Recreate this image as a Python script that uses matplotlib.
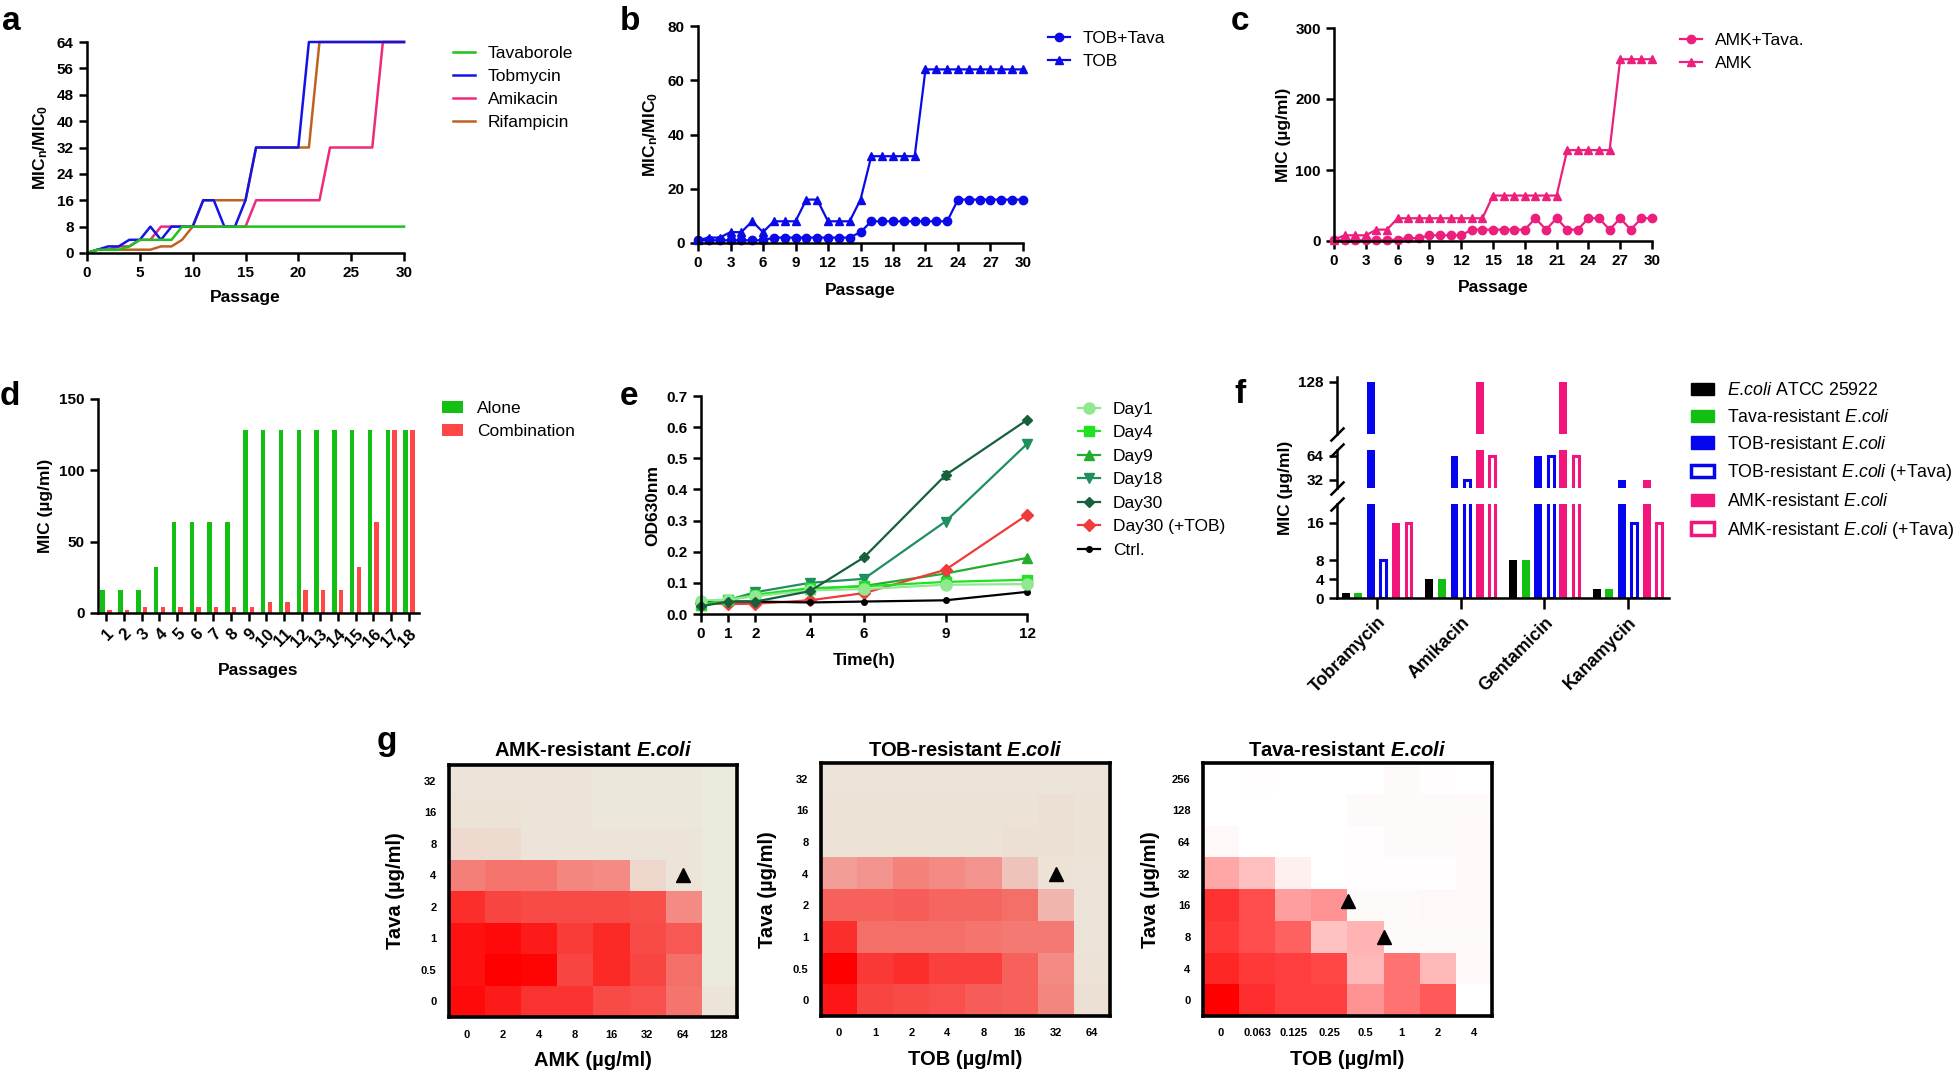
import matplotlib
matplotlib.use("Agg")
import matplotlib.pyplot as plt
import numpy as np
from matplotlib.colors import LinearSegmentedColormap
from matplotlib.patches import Patch
from matplotlib.lines import Line2D

# ---------------- data ----------------
passage = list(range(31))

# a: fold change of MIC
a_tava = [0, 1, 1, 1, 2, 4, 4, 4, 4, 8, 8, 8, 8, 8, 8, 8, 8, 8, 8, 8, 8, 8, 8, 8, 8, 8, 8, 8, 8, 8, 8]
a_tob = [0, 1, 2, 2, 4, 4, 8, 4, 8, 8, 8, 16, 16, 8, 8, 16, 32, 32, 32, 32, 32, 64, 64, 64, 64, 64, 64, 64, 64, 64, 64]
a_amk = [0, 1, 1, 2, 2, 4, 4, 8, 8, 8, 8, 8, 8, 8, 8, 8, 16, 16, 16, 16, 16, 16, 16, 32, 32, 32, 32, 32, 64, 64, 64]
a_rif = [0, 1, 1, 1, 1, 1, 1, 2, 2, 4, 8, 16, 16, 16, 16, 16, 32, 32, 32, 32, 32, 32, 64, 64, 64, 64, 64, 64, 64, 64, 64]

# b
b_tob_tava = [1, 1, 1, 1, 1, 1, 1, 2, 2, 2, 2, 2, 2, 2, 2, 4, 8, 8, 8, 8, 8, 8, 8, 8, 16, 16, 16, 16, 16, 16, 16]
b_tob = [1, 2, 2, 4, 4, 8, 4, 8, 8, 8, 16, 16, 8, 8, 8, 16, 32, 32, 32, 32, 32, 64, 64, 64, 64, 64, 64, 64, 64, 64, 64]

# c
c_amk_tava = [1, 1, 1, 1, 1, 1, 2, 4, 4, 8, 8, 8, 8, 16, 16, 16, 16, 16, 16, 32, 16, 32, 16, 16, 32, 32, 16, 32, 16, 32, 32]
c_amk = [2, 8, 8, 8, 16, 16, 32, 32, 32, 32, 32, 32, 32, 32, 32, 64, 64, 64, 64, 64, 64, 64, 128, 128, 128, 128, 128, 256, 256, 256, 256]

# d
d_passages = [str(i) for i in range(1, 19)]
d_alone = [16, 16, 16, 32, 64, 64, 64, 64, 128, 128, 128, 128, 128, 128, 128, 128, 128, 128]
d_combo = [2, 2, 4, 4, 4, 4, 4, 4, 4, 8, 8, 16, 16, 16, 32, 64, 128, 128]

# e
e_time = [0, 1, 2, 4, 6, 9, 12]
e_day1 = [0.043, 0.046, 0.057, 0.076, 0.080, 0.094, 0.096]
e_day4 = [0.030, 0.046, 0.062, 0.083, 0.089, 0.103, 0.110]
e_day9 = [0.030, 0.045, 0.060, 0.080, 0.090, 0.130, 0.180]
e_day18 = [0.030, 0.045, 0.070, 0.100, 0.113, 0.297, 0.546]
e_day30 = [0.025, 0.040, 0.040, 0.073, 0.182, 0.446, 0.623]
e_day30_err = [0.0, 0.0, 0.0, 0.0, 0.004, 0.012, 0.004]
e_day30_tob = [0.035, 0.032, 0.033, 0.044, 0.067, 0.142, 0.318]
e_ctrl = [0.040, 0.040, 0.040, 0.037, 0.040, 0.044, 0.071]

# f
f_drugs = ["Tobramycin", "Amikacin", "Gentamicin", "Kanamycin"]
f_atcc = [1, 4, 8, 2]
f_tava_res = [1, 4, 8, 2]
f_tob_res = [128, 64, 64, 32]
f_tob_res_tava = [8, 32, 64, 16]
f_amk_res = [16, 128, 128, 32]
f_amk_res_tava = [16, 64, 64, 16]

# g: checkerboards (rows from lowest Tava upwards, relative growth 0..1)
g1_x = ["0", "2", "4", "8", "16", "32", "64", "128"]
g1_y = ["0", "0.5", "1", "2", "4", "8", "16", "32"]
g1 = [[0.95, 0.88, 0.78, 0.78, 0.68, 0.65, 0.50, 0.02],
      [0.92, 1.00, 0.98, 0.70, 0.82, 0.70, 0.52, 0.00],
      [0.92, 0.95, 0.88, 0.74, 0.82, 0.68, 0.62, 0.00],
      [0.80, 0.70, 0.68, 0.68, 0.68, 0.66, 0.40, 0.00],
      [0.45, 0.50, 0.50, 0.42, 0.40, 0.08, 0.02, 0.00],
      [0.07, 0.06, 0.02, 0.02, 0.02, 0.02, 0.02, 0.00],
      [0.03, 0.03, 0.02, 0.02, 0.01, 0.01, 0.01, 0.00],
      [0.02, 0.02, 0.02, 0.02, 0.01, 0.01, 0.01, 0.00]]
g1_syn_x = [6]
g1_syn_y = [4]

g2_x = ["0", "1", "2", "4", "8", "16", "32", "64"]
g2_y = ["0", "0.5", "1", "2", "4", "8", "16", "32"]
g2 = [[0.90, 0.70, 0.68, 0.65, 0.60, 0.58, 0.42, 0.04],
      [1.00, 0.75, 0.80, 0.72, 0.72, 0.58, 0.40, 0.03],
      [0.80, 0.52, 0.52, 0.52, 0.50, 0.48, 0.48, 0.02],
      [0.58, 0.58, 0.60, 0.56, 0.56, 0.52, 0.22, 0.02],
      [0.32, 0.36, 0.44, 0.40, 0.36, 0.16, 0.03, 0.02],
      [0.03, 0.03, 0.03, 0.03, 0.03, 0.04, 0.04, 0.03],
      [0.03, 0.03, 0.03, 0.03, 0.03, 0.03, 0.04, 0.03],
      [0.02, 0.02, 0.02, 0.02, 0.02, 0.02, 0.02, 0.02]]
g2_syn_x = [6]
g2_syn_y = [4]

g3_x = ["0", "0.063", "0.125", "0.25", "0.5", "1", "2", "4"]
g3_y = ["0", "4", "8", "16", "32", "64", "128", "256"]
g3 = [[1.00, 0.82, 0.75, 0.75, 0.42, 0.55, 0.65, 0.00],
      [0.85, 0.78, 0.75, 0.72, 0.28, 0.55, 0.28, 0.03],
      [0.78, 0.70, 0.62, 0.24, 0.30, 0.02, 0.02, 0.02],
      [0.80, 0.70, 0.38, 0.42, 0.02, 0.02, 0.03, 0.03],
      [0.35, 0.25, 0.06, 0.00, 0.01, 0.01, 0.01, 0.03],
      [0.03, 0.00, 0.00, 0.00, 0.01, 0.02, 0.02, 0.03],
      [0.00, 0.00, 0.00, 0.00, 0.02, 0.02, 0.02, 0.02],
      [0.00, 0.01, 0.00, 0.00, 0.00, 0.02, 0.01, 0.00]]
g3_syn_x = [3.5, 4.5]
g3_syn_y = [3.15, 2.0]

# ---------------- style ----------------
W, H = 1959, 1078
SANS = ['Liberation Sans', 'DejaVu Sans']
plt.rcParams['font.family'] = SANS
plt.rcParams['mathtext.fontset'] = 'custom'
plt.rcParams['mathtext.rm'] = 'Liberation Sans'
plt.rcParams['mathtext.it'] = 'Liberation Sans:italic'
plt.rcParams['mathtext.bf'] = 'Liberation Sans:bold'
plt.rcParams['mathtext.bfit'] = 'Liberation Sans:italic:bold'
plt.rcParams['axes.linewidth'] = 1.8

fig = plt.figure(figsize=(W / 100, H / 100), dpi=100)

ECOLI = r'$\it{E}$.$\it{coli}$'
ECOLI_B = r'$\mathbfit{E}$.$\mathbfit{coli}$'


def add_ax(x0, x1, y0, y1):
    return fig.add_axes([x0 / W, 1 - y1 / H, (x1 - x0) / W, (y1 - y0) / H])


def style(ax, size=11):
    for s in ['top', 'right']:
        ax.spines[s].set_visible(False)
    ax.tick_params(direction='out', length=6, width=1.8, labelsize=size)
    for t in ax.get_xticklabels() + ax.get_yticklabels():
        t.set_fontweight('bold')


def xlabel_px(ax, text, ytop, size=12.5):
    b = ax.get_position()
    bot = (1 - b.y0) * H
    ax.set_xlabel(text, fontsize=size, fontweight='bold')
    ax.xaxis.set_label_coords(0.5, -(ytop - bot) / (b.height * H))


def ylabel_px(ax, text, xright, size=12.5):
    b = ax.get_position()
    ax.set_ylabel(text, fontsize=size, fontweight='bold')
    ax.yaxis.set_label_coords((xright - b.x0 * W) / (b.width * W), 0.5)


def legend_px(ax, handles, labels, x, yfirst, pitch, size=12.5, hlen=22, hpad=13, hh=None):
    fs = size * 100 / 72
    kw = {}
    if hh:
        kw['handleheight'] = hh / fs
    return ax.legend(handles, labels, loc='upper left',
                     bbox_to_anchor=(x / W, 1 - (yfirst - 0.6 * fs) / H),
                     bbox_transform=fig.transFigure, frameon=False,
                     borderpad=0, borderaxespad=0,
                     prop={'size': size},
                     handlelength=hlen / fs, handletextpad=hpad / fs,
                     labelspacing=(pitch - 1.2 * fs) / fs, **kw)


def letter(x, ybase, s):
    fig.text(x / W, 1 - ybase / H, s, fontsize=24, fontweight='bold', va='baseline')


# ---------------- a ----------------
ax = add_ax(87, 404, 42, 253)
ax.plot(passage, a_amk, color='#ee2a7b', lw=1.8, clip_on=False, label='Amikacin')
ax.plot(passage, a_rif, color='#c0621f', lw=1.8, clip_on=False, label='Rifampicin')
ax.plot(passage, a_tob, color='#1414e6', lw=1.8, clip_on=False, label='Tobmycin')
ax.plot(passage, a_tava, color='#1ec21e', lw=1.8, clip_on=False, label='Tavaborole')
ax.set_xlim(0, 30)
ax.set_ylim(0, 64)
ax.set_xticks(range(0, 31, 5))
ax.set_yticks(range(0, 65, 8))
style(ax)
h, l = ax.get_legend_handles_labels()
order = [3, 2, 0, 1]
legend_px(ax, [h[i] for i in order], [l[i] for i in order], 453, 56, 28.7, size=12.5)
xlabel_px(ax, 'Passage', 290)
ylabel_px(ax, r'$\mathbf{MIC_n/MIC_0}$', 50)
letter(2, 30, 'a')

# ---------------- b ----------------
ax = add_ax(698, 1023, 26, 243)
ax.plot(passage, b_tob_tava, color='#0a0ae8', lw=1.6, marker='o', ms=6, clip_on=False, label='TOB+Tava')
ax.plot(passage, b_tob, color='#0a0ae8', lw=1.6, marker='^', ms=6, clip_on=False, label='TOB')
ax.set_xlim(0, 30)
ax.set_ylim(0, 80)
ax.set_xticks(range(0, 31, 3))
ax.set_yticks(range(0, 81, 20))
style(ax)
h, l = ax.get_legend_handles_labels()
legend_px(ax, h, l, 1048, 41, 29)
xlabel_px(ax, 'Passage', 283)
ylabel_px(ax, r'$\mathbf{MIC_n/MIC_0}$', 660)
letter(620, 30, 'b')

# ---------------- c ----------------
ax = add_ax(1334, 1652, 28, 241)
ax.plot(passage, c_amk_tava, color='#ec1f7c', lw=1.6, marker='o', ms=6, clip_on=False, label='AMK+Tava.')
ax.plot(passage, c_amk, color='#ec1f7c', lw=1.6, marker='^', ms=6, clip_on=False, label='AMK')
ax.set_xlim(0, 30)
ax.set_ylim(0, 300)
ax.set_xticks(range(0, 31, 3))
ax.set_yticks(range(0, 301, 100))
style(ax)
h, l = ax.get_legend_handles_labels()
legend_px(ax, h, l, 1680, 43, 29)
xlabel_px(ax, 'Passage', 280)
ylabel_px(ax, 'MIC (µg/ml)', 1291)
letter(1231, 30, 'c')

# ---------------- d ----------------
ax = add_ax(98, 419, 399, 613)
xd = np.arange(1, len(d_passages) + 1)
ax.bar(xd - 0.185, d_alone, width=0.25, color='#12bf12', label='Alone')
ax.bar(xd + 0.185, d_combo, width=0.25, color='#ff4747', label='Combination')
ax.set_xlim(0.55, 18.56)
ax.set_ylim(0, 150)
ax.set_yticks([0, 50, 100, 150])
ax.set_xticks(xd, d_passages, rotation=45, ha='right', va='top', rotation_mode='anchor')
style(ax)
for t in ax.get_xticklabels():
    t.set_fontsize(12)
h, l = ax.get_legend_handles_labels()
legend_px(ax, h, l, 442, 411, 29, hlen=21, hpad=14, hh=12)
xlabel_px(ax, 'Passages', 663)
ylabel_px(ax, 'MIC (µg/ml)', 53)
letter(0, 405, 'd')

# ---------------- e ----------------
ax = add_ax(701, 1027, 396, 614)
series_e = [
    ('Day30', e_day30, '#17603c', 'D', 5.5),
    ('Day18', e_day18, '#1f8f5f', 'v', 7.5),
    ('Day9', e_day9, '#22ad2a', '^', 7.5),
    ('Day30 (+TOB)', e_day30_tob, '#ee3b3b', 'D', 6.5),
    ('Ctrl.', e_ctrl, '#000000', 'o', 4),
    ('Day4', e_day4, '#22e022', 's', 7),
    ('Day1', e_day1, '#90e890', 'o', 8),
]
handles = {}
for name, ys, col, mk, ms in series_e:
    if name == 'Day30':
        ax.errorbar(e_time, ys, yerr=e_day30_err, color=col, lw=1.6, marker=mk, ms=ms,
                    capsize=3, elinewidth=1.2, clip_on=False)
    else:
        ax.plot(e_time, ys, color=col, lw=1.6, marker=mk, ms=ms, clip_on=False)
    handles[name] = Line2D([], [], color=col, lw=1.6, marker=mk, ms=ms)
ax.set_xlim(0, 12)
ax.set_ylim(0, 0.7)
ax.set_xticks(e_time)
ax.set_yticks(np.arange(0, 0.71, 0.1))
ax.set_yticklabels(['%.1f' % v for v in np.arange(0, 0.71, 0.1)])
style(ax)
e_order = ['Day1', 'Day4', 'Day9', 'Day18', 'Day30', 'Day30 (+TOB)', 'Ctrl.']
legend_px(ax, [handles[k] for k in e_order], e_order, 1078, 412, 29.2)
xlabel_px(ax, 'Time(h)', 653)
ylabel_px(ax, 'OD630nm', 660)
letter(620, 405, 'e')

# ---------------- f (broken y axis) ----------------
ax_top = add_ax(1337, 1669, 377, 434)
ax_mid = add_ax(1337, 1669, 450, 488)
ax_bot = add_ax(1337, 1669, 504, 598)
f_series = [
    (f_atcc, '#000000', True, ECOLI + ' ATCC 25922'),
    (f_tava_res, '#12bf12', True, 'Tava-resistant ' + ECOLI),
    (f_tob_res, '#0505ee', True, 'TOB-resistant ' + ECOLI),
    (f_tob_res_tava, '#0505ee', False, 'TOB-resistant ' + ECOLI + ' (+Tava)'),
    (f_amk_res, '#f2157c', True, 'AMK-resistant ' + ECOLI),
    (f_amk_res_tava, '#f2157c', False, 'AMK-resistant ' + ECOLI + ' (+Tava)'),
]
xf = np.arange(len(f_drugs))
f_handles = []
for i, (vals, col, filled, lab) in enumerate(f_series):
    off = (i - 2.5) * 0.15
    for a in (ax_top, ax_mid, ax_bot):
        if filled:
            a.bar(xf + off, vals, width=0.095, color=col)
        else:
            a.bar(xf + off, vals, width=0.07, facecolor='white', edgecolor=col, linewidth=2.2)
    if filled:
        f_handles.append(Patch(facecolor=col, edgecolor=col))
    else:
        f_handles.append(Patch(facecolor='white', edgecolor=col, linewidth=2.5))
ax_top.set_ylim(100, 130.5)
ax_mid.set_ylim(21, 72)
ax_bot.set_ylim(0, 20)
ax_top.set_yticks([128])
ax_mid.set_yticks([32, 64])
ax_bot.set_yticks([0, 4, 8, 16])
for a in (ax_top, ax_mid, ax_bot):
    a.set_xlim(-0.48, 3.49)
for a in (ax_top, ax_mid):
    a.spines['bottom'].set_visible(False)
    a.set_xticks([])
ax_bot.set_xticks(xf, f_drugs, rotation=45, ha='right', va='top', rotation_mode='anchor')
for a in (ax_top, ax_mid, ax_bot):
    style(a)
ax_bot.tick_params(axis='x', length=8)
for t in ax_bot.get_xticklabels():
    t.set_fontsize(12.8)


def brk(a, y):
    a.plot([0], [y], transform=a.transAxes, marker=[(-1, -1), (1, 1)], markersize=10,
           linestyle='none', color='k', mec='k', mew=1.8, clip_on=False)


brk(ax_top, 0)
brk(ax_mid, 0)
brk(ax_mid, 1)
brk(ax_bot, 1)
legend_px(ax_bot, f_handles, [s[3] for s in f_series], 1691, 393, 31, size=12.8, hlen=23, hpad=13, hh=12)
fig.text(1293 / W, 1 - 488 / H, 'MIC (µg/ml)', rotation=90, ha='right', va='center',
         fontsize=12.5, fontweight='bold')
letter(1234, 403, 'f')

# ---------------- g ----------------
beige = LinearSegmentedColormap.from_list('beige_red', ['#ece9dd', '#ff0000'])
white = LinearSegmentedColormap.from_list('white_red', ['#ffffff', '#ff0000'])


def heat(rect, vals, xl, yl, cmap, sx, sy, title, xlab, ylab_right):
    a = add_ax(*rect)
    a.imshow(np.array(vals), origin='lower', aspect='auto', cmap=cmap, vmin=0, vmax=1,
             interpolation='nearest')
    a.plot(sx, sy, linestyle='none', marker='^', color='k', ms=10)
    a.set_xlim(-0.5, len(xl) - 0.5)
    a.set_ylim(-0.5, len(yl) - 0.5)
    a.set_xticks(range(len(xl)), xl)
    a.set_yticks(range(len(yl)), yl)
    a.tick_params(length=0, labelsize=8, pad=9)
    for t in a.get_xticklabels() + a.get_yticklabels():
        t.set_fontweight('bold')
    for s in a.spines.values():
        s.set_linewidth(2.6)
    cx = (rect[0] + rect[1]) / 2
    fig.text(cx / W, 1 - 756 / H, title, ha='center', va='baseline', fontsize=14.5, fontweight='bold')
    xlabel_px(a, xlab, rect[3] + 34, size=14.5)
    ylabel_px(a, 'Tava (µg/ml)', ylab_right, size=14.5)
    return a


heat((449, 737, 765, 1017), g1, g1_x, g1_y, beige, g1_syn_x, g1_syn_y,
     'AMK-resistant ' + ECOLI_B, 'AMK (µg/ml)', 405)
heat((821, 1110, 763, 1016), g2, g2_x, g2_y, beige, g2_syn_x, g2_syn_y,
     'TOB-resistant ' + ECOLI_B, 'TOB (µg/ml)', 777)
heat((1203, 1492, 763, 1016), g3, g3_x, g3_y, white, g3_syn_x, g3_syn_y,
     'Tava-resistant ' + ECOLI_B, 'TOB (µg/ml)', 1160)
letter(377, 750, 'g')

fig.savefig('out.png', dpi=100)
